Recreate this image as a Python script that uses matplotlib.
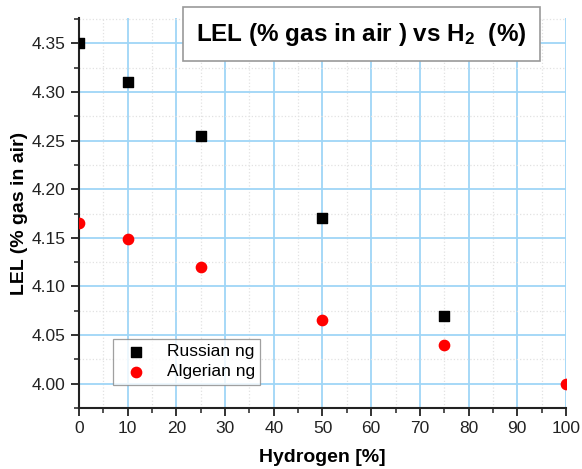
import matplotlib.pyplot as plt
from matplotlib.ticker import MultipleLocator

plt.rcParams['font.family'] = ['Liberation Sans', 'DejaVu Sans']
plt.rcParams['mathtext.fontset'] = 'custom'
plt.rcParams['mathtext.rm'] = 'Liberation Sans:bold'
plt.rcParams['mathtext.it'] = 'Liberation Sans:bold'
plt.rcParams['mathtext.bf'] = 'Liberation Sans:bold'

# data
h2_russian = [0, 10, 25, 50, 75]
lel_russian = [4.35, 4.31, 4.255, 4.17, 4.07]
h2_algerian = [0, 10, 25, 50, 75, 100]
lel_algerian = [4.165, 4.149, 4.12, 4.065, 4.04, 4.00]

fig = plt.figure(figsize=(5.82, 4.69), dpi=100)
ax = fig.add_axes([0.1357, 0.130, 0.8368, 0.8316])

ax.scatter(h2_russian, lel_russian, marker='s', s=42, color='black', label='Russian ng', zorder=3)
ax.scatter(h2_algerian, lel_algerian, marker='o', s=55, color='red', label='Algerian ng', zorder=3)

ax.set_xlim(0, 100)
ax.set_ylim(3.975, 4.376)
ax.xaxis.set_major_locator(MultipleLocator(10))
ax.xaxis.set_minor_locator(MultipleLocator(5))
ax.yaxis.set_major_locator(MultipleLocator(0.05))
ax.yaxis.set_minor_locator(MultipleLocator(0.025))
ax.yaxis.set_major_formatter(plt.FormatStrFormatter('%.2f'))

ax.grid(which='major', color='#9fd6f7', linewidth=1.3, zorder=0)
ax.grid(which='minor', color='#e2e2e2', linestyle=':', linewidth=0.9, zorder=0)
ax.set_axisbelow(True)

for side in ['top', 'right']:
    ax.spines[side].set_visible(False)
for side in ['left', 'bottom']:
    ax.spines[side].set_linewidth(1.5)
    ax.spines[side].set_color('#222222')

ax.tick_params(which='major', direction='out', length=6, width=1.3, labelsize=12.5, colors='#222222')
ax.tick_params(which='minor', direction='out', length=3.5, width=1.1, colors='#222222')

ax.set_xlabel('Hydrogen [%]', fontsize=14, fontweight='bold', labelpad=9)
ax.set_ylabel('LEL (% gas in air)', fontsize=14, fontweight='bold', labelpad=3)

leg = ax.legend(loc='lower left', bbox_to_anchor=(0.07, 0.06), fontsize=12.5, frameon=True,
                fancybox=False, edgecolor='#888888', handletextpad=0.8, borderpad=0.3,
                labelspacing=0.3, borderaxespad=0)
leg.get_frame().set_linewidth(0.9)

fig.text(0.621, 0.9275, 'LEL (% gas in air ) vs H$_2$  (%)', ha='center', va='center',
         fontsize=17.5, fontweight='bold',
         bbox=dict(boxstyle='square,pad=0.55', facecolor='white', edgecolor='#999999', linewidth=1.2))

fig.savefig('out.png', dpi=100)
